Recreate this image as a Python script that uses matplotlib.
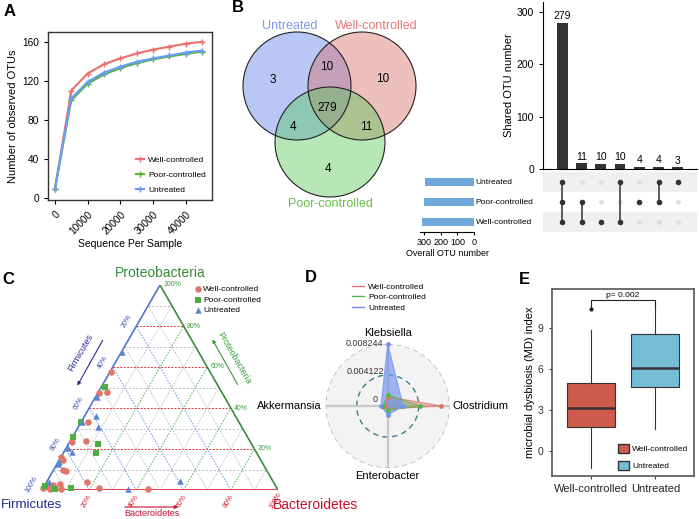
import numpy as np
import matplotlib
matplotlib.use("Agg")
import matplotlib.pyplot as plt
from matplotlib.patches import Circle, Patch
from matplotlib.lines import Line2D

plt.rcParams['font.family'] = ['Liberation Sans', 'DejaVu Sans']
plt.rcParams['axes.linewidth'] = 0.8

W, H = 699, 519
PT = 72 / 100  # pixel -> points

### --- A: rarefaction curves
seq_depth = [0, 5000, 10000, 15000, 20000, 25000, 30000, 35000, 40000, 45000]
otu_well = [9, 110, 127.5, 137, 143, 148, 152, 155, 158, 160]
otu_poor = [9, 100, 117, 126.5, 133, 138, 142, 145, 147.5, 150]
otu_untr = [9, 102, 119, 128.5, 134.5, 139.5, 143, 146, 149, 151]

### --- B: venn + upset
venn_regions = ['U', 'W', 'P', 'UW', 'UP', 'PW', 'UPW']
venn_counts = [3, 10, 4, 10, 4, 11, 279]
upset_counts = [279, 11, 10, 10, 4, 4, 3]
set_names = ['Untreated', 'Poor-controlled', 'Well-controlled']
upset_members = [[0, 1, 2], [1, 2], [2], [0, 2], [1], [0, 1], [0]]
set_sizes = [296, 298, 310]

### --- C: ternary (Proteobacteria, Bacteroidetes fractions; rest Firmicutes)
well_p = [0.577, 0.475, 0.48, 0.33, 0.236, 0.239, 0.163, 0.146, 0.098, 0.094,
          0.04, 0.008, 0.003, 0.008, 0.024, 0.003, 0.024, 0.028, 0.003]
well_b = [0.004, 0.005, 0.034, 0.031, 0.008, 0.067, 0.0, 0.017, 0.039, 0.053,
          0.169, 0.239, 0.449, 0.002, 0.008, 0.032, 0.036, 0.062, 0.078]
poor_p = [0.501, 0.333, 0.26, 0.223, 0.179, 0.005, 0.008, 0.02]
poor_b = [0.016, 0.0, 0.0, 0.125, 0.138, 0.053, 0.119, 0.003]
untr_p = [0.672, 0.455, 0.362, 0.309, 0.333, 0.206, 0.184, 0.135, 0.125, 0.04, 0.005, 0.044]
untr_b = [0.002, 0.004, 0.048, 0.084, 0.002, 0.008, 0.034, 0.006, 0.006, 0.011, 0.363, 0.563]
tern_ticks = [0.2, 0.4, 0.6, 0.8, 1.0]

### --- D: radar
radar_taxa = ['Klebsiella', 'Clostridium', 'Enterobacter', 'Akkermansia']
radar_well = [0.00123, 0.0071, 0.0004, 0.0004]
radar_poor = [0.00145, 0.00434, 0.0005, 0.0006]
radar_untr = [0.008244, 0.00206, 0.0012, 0.00088]
radar_levels = [0, 0.004122, 0.008244]

### --- E: MD index boxplot
md_groups = ['Well-controlled', 'Untreated']
md_q1 = [1.77, 4.68]
md_med = [3.11, 6.05]
md_q3 = [4.97, 8.52]
md_lo = [-1.21, 1.6]
md_hi = [8.81, 10.8]
md_fliers = [[10.34], []]

c_well, c_poor, c_untr = '#EB6F6C', '#55B23A', '#6A9CF8'

fig = plt.figure(figsize=(W / 100, H / 100), dpi=100)


def px_axes(l, t, r, b, **kw):
    return fig.add_axes([l / W, 1 - b / H, (r - l) / W, (b - t) / H], **kw)


# overlay in pixel coordinates (venn, arrows, letters)
ov = px_axes(0, 0, W, H)
ov.set_xlim(0, W)
ov.set_ylim(H, 0)
ov.axis('off')

for lab, x, y in [('A', 10, 11), ('B', 238, 8), ('C', 8, 279), ('D', 311, 278), ('E', 524, 280)]:
    ov.text(x, y, lab, fontsize=12, fontweight='bold', ha='center', va='center')

### A
ax = px_axes(48, 32, 212, 200)
for y, c, lab in [(otu_well, c_well, 'Well-controlled'),
                  (otu_poor, c_poor, 'Poor-controlled'),
                  (otu_untr, c_untr, 'Untreated')]:
    ax.plot(seq_depth, y, color=c, lw=1.5, marker='+', ms=4, mew=1, label=lab)
ax.set_xlim(-2100, 48000)
ax.set_ylim(-2, 170)
ax.set_xticks([0, 10000, 20000, 30000, 40000])
ax.set_yticks([0, 40, 80, 120, 160])
ax.tick_params(labelsize=7.3, length=3, width=0.8)
plt.setp(ax.get_xticklabels(), rotation=45, ha='right', rotation_mode='anchor')
ax.set_xlabel('Sequence Per Sample', fontsize=7.5, labelpad=2)
ax.set_ylabel('Number of observed OTUs', fontsize=8, labelpad=3)
for s in ax.spines.values():
    s.set_color('#333333')
    s.set_linewidth(1.0)
ax.legend(loc='lower right', frameon=False, fontsize=6, handlelength=1.0,
          labelspacing=0.9, handletextpad=0.5, borderaxespad=0.3)

### B venn
venn_circles = [((297, 86), 54, (0.35, 0.48, 0.93)),
                ((362, 86), 54, (0.84, 0.42, 0.38)),
                ((330, 142), 55, (0.33, 0.78, 0.33))]
for (cx, cy), r, col in venn_circles:
    ov.add_patch(Circle((cx, cy), r, facecolor=col + (0.42,), edgecolor='none'))
for (cx, cy), r, col in venn_circles:
    ov.add_patch(Circle((cx, cy), r, facecolor='none', edgecolor='#222222', lw=0.8))
venn_pos = {'U': (273, 80), 'W': (383, 79), 'P': (328, 169), 'UW': (327, 67),
            'UP': (293, 127), 'PW': (366, 127), 'UPW': (327, 108)}
for reg, n in zip(venn_regions, venn_counts):
    ov.text(*venn_pos[reg], str(n), ha='center', va='center', fontsize=8.5)
ov.text(290, 26, 'Untreated', color='#7C96F2', fontsize=9, ha='center', va='center')
ov.text(376, 26, 'Well-controlled', color='#E8776F', fontsize=9, ha='center', va='center')
ov.text(330, 204, 'Poor-controlled', color='#66C24A', fontsize=9, ha='center', va='center')

### B upset
ax_u = px_axes(543, 2, 697, 169)
xs = np.arange(len(upset_counts))
ax_u.bar(xs, upset_counts, width=0.57, color='#333333')
for x, v in zip(xs, upset_counts):
    ax_u.text(x, v + 3, str(v), ha='center', va='bottom', fontsize=7.5)
ax_u.set_xlim(-1.0, 7.0)
ax_u.set_ylim(0, 319)
ax_u.set_xticks([])
ax_u.set_yticks([0, 100, 200, 300])
ax_u.tick_params(labelsize=7.5, length=3)
ax_u.spines['top'].set_visible(False)
ax_u.spines['right'].set_visible(False)
ax_u.set_ylabel('Shared OTU number', fontsize=8, labelpad=2)

ax_m = px_axes(543, 172, 697, 232)
ax_m.set_xlim(-1.0, 7.0)
ax_m.set_ylim(2.5, -0.5)
ax_m.axis('off')
for i in range(len(set_names)):
    if i % 2 == 0:
        ax_m.axhspan(i - 0.5, i + 0.5, color='#F0F0F0', lw=0)
for j, mem in enumerate(upset_members):
    rows = np.arange(len(set_names))
    ax_m.scatter(np.full(len(rows), j), rows, s=6, color='#DDDDDD', zorder=2)
    ax_m.plot([j, j], [min(mem), max(mem)], color='#333333', lw=1.1, zorder=3)
    ax_m.scatter(np.full(len(mem), j), mem, s=9, color='#333333', zorder=4)

ax_s = px_axes(420, 172, 474, 232)
ax_s.barh(np.arange(len(set_sizes)), set_sizes, height=0.42, color='#6FA8DC')
ax_s.set_xlim(324, 0)
ax_s.set_ylim(2.5, -0.5)
ax_s.set_yticks([])
ax_s.set_xticks([300, 200, 100, 0])
ax_s.tick_params(labelsize=6.5, length=2.5, pad=1.5)
for k in ['top', 'left', 'right']:
    ax_s.spines[k].set_visible(False)
ax_s.set_xlabel('Overall OTU number', fontsize=6.5, labelpad=2)
for i, name in enumerate(set_names):
    ax_s.text(-10, i, name, ha='left', va='center', fontsize=6, clip_on=False)

### C ternary
h = np.sqrt(3) / 2
ax_t = px_axes(42, 285, 278, 490)
ax_t.set_xlim(0, 1)
ax_t.set_ylim(0, h)
ax_t.axis('off')


def tern(b, p):
    b = np.asarray(b, float)
    p = np.asarray(p, float)
    return b + p / 2, p * h


for k in range(1, 10):
    f = k / 10
    even = k % 2 == 0
    x, y = tern([0, 1 - f], [f, f])
    ax_t.plot(x, y, color='#E03030' if even else '#BBBBBB',
              ls=(0, (2, 1.5)) if even else (0, (2, 2)), lw=0.7)
    x, y = tern([f, f], [0, 1 - f])
    ax_t.plot(x, y, color='#4CAF50' if even else '#BBBBBB', ls=(0, (1.5, 1.5)), lw=0.7)
    x, y = tern([1 - f, 0], [0, 1 - f])
    ax_t.plot(x, y, color='#6B8FE0' if even else '#BBBBBB', ls=(0, (1.5, 1.5)), lw=0.7)

for (b0, p0, b1, p1), col in [((0, 0, 0, 1), '#4A78D0'), ((1, 0, 0, 1), '#3C8C3C'),
                              ((0, 0, 1, 0), '#E0202A')]:
    x, y = tern([b0, b1], [p0, p1])
    ax_t.plot(x, y, color=col, lw=1.2, solid_capstyle='butt')

for pp, bb, col, mk, lab in [(well_p, well_b, '#E0766A', 'o', 'Well-controlled'),
                            (poor_p, poor_b, '#4CB040', 's', 'Poor-controlled'),
                            (untr_p, untr_b, '#5B86D6', '^', 'Untreated')]:
    x, y = tern(bb, pp)
    ax_t.scatter(x, y, s=22, marker=mk, color=col, lw=0, zorder=5, clip_on=False, label=lab)
ax_t.legend(loc='upper left', bbox_to_anchor=(190 / W, 1 - 281 / H),
            bbox_transform=fig.transFigure, frameon=False, fontsize=6,
            handletextpad=0.1, labelspacing=0.35, borderpad=0, markerscale=1.0,
            handlelength=1.0)

for v in tern_ticks:
    s = f'{int(round(v * 100))}%'
    ax_t.annotate(s, tern(0, 1 - v), xytext=(-10 * PT, 5 * PT), textcoords='offset points',
                  rotation=60, color='#3A4DB0', fontsize=5, ha='center', va='center')
    ax_t.annotate(s, tern(1 - v, v), xytext=(3 * PT, 0), textcoords='offset points',
                  color='#3C9C3C', fontsize=5, ha='left', va='center')
    ax_t.annotate(s, tern(v, 0), xytext=(-2 * PT, -11 * PT), textcoords='offset points',
                  rotation=60, color='#D0202A', fontsize=5, ha='center', va='center')

ov.text(160, 273, 'Proteobacteria', color='#3A8A3A', fontsize=10, ha='center', va='center')
ov.text(1, 505, 'Firmicutes', color='#1F2A8F', fontsize=9.5, ha='left', va='center')
ov.text(315, 505, 'Bacteroidetes', color='#C8102E', fontsize=10, ha='center', va='center')
ov.annotate('', xy=(76, 388), xytext=(104, 338),
            arrowprops=dict(arrowstyle='-|>', color='#2A2A9A', lw=0.8, mutation_scale=5))
ov.text(81, 353, 'Firmicutes', rotation=60, color='#2A2A9A', fontsize=6.5, ha='center', va='center')
ov.annotate('', xy=(211, 337), xytext=(239, 387),
            arrowprops=dict(arrowstyle='-|>', color='#3C9C3C', lw=0.8, mutation_scale=5))
ov.text(234, 358, 'Proteobacteria', rotation=-60, color='#3C9C3C', fontsize=6.5, ha='center', va='center')
ov.annotate('', xy=(181, 507), xytext=(122, 507),
            arrowprops=dict(arrowstyle='-|>', color='#C8102E', lw=0.8, mutation_scale=5))
ov.text(152, 514, 'Bacteroidetes', color='#C8102E', fontsize=6.5, ha='center', va='center')

### D radar
rmax = radar_levels[-1]
ax_r = px_axes(325.7, 344, 449.7, 468, projection='polar')
ax_r.set_theta_zero_location('N')
ax_r.set_theta_direction(-1)
ax_r.set_ylim(0, rmax)
ax_r.axis('off')
th = np.linspace(0, 2 * np.pi, 200)
ax_r.fill(th, np.full_like(th, rmax), color='#F3F3F3', lw=0, zorder=0)
ax_r.plot(th, np.full_like(th, rmax), color='#AAAAAA', ls=(0, (4, 3)), lw=0.9, zorder=1)
ax_r.plot(th, np.full_like(th, radar_levels[1]), color='#3C7F8C', ls=(0, (4, 3)), lw=1.0, zorder=1)
ang = np.arange(len(radar_taxa)) * np.pi / 2
for a in ang:
    ax_r.plot([a, a], [0, rmax], color='#C8C8C8', lw=1.6, zorder=1)
angc = np.append(ang, ang[0])
for vals, col, al in [(radar_well, '#E8736E', 0.45), (radar_poor, '#4DB84D', 0.35),
                      (radar_untr, '#7090F0', 0.65)]:
    v = np.append(vals, vals[0])
    ax_r.fill(angc, v, color=col, alpha=al, lw=0, zorder=2)
    ax_r.plot(angc, v, color=col, lw=0.8, alpha=0.8, zorder=3, label=None)
    ax_r.scatter(ang, vals, s=6, color=col, zorder=4, clip_on=False)
for lev, dx, dy in [(radar_levels[0], -10, 6), (radar_levels[1], -4, 4), (radar_levels[2], -5, 1)]:
    lab = '0' if lev == 0 else f'{lev:.6f}'
    ax_r.annotate(lab, (0, lev), xytext=(dx * PT, dy * PT), textcoords='offset points',
                  ha='right', va='center', fontsize=6.5, color='#333333')
for a, name, ha, va, off in [(ang[0], radar_taxa[0], 'center', 'bottom', (0, 6)),
                             (ang[1], radar_taxa[1], 'left', 'center', (3, 0)),
                             (ang[2], radar_taxa[2], 'center', 'top', (0, -3)),
                             (ang[3], radar_taxa[3], 'right', 'center', (-4, 0))]:
    ax_r.annotate(name, (a, rmax), xytext=(off[0] * PT, off[1] * PT), textcoords='offset points',
                  ha=ha, va=va, fontsize=8)
ax_r.legend([Line2D([], [], color='#E8736E', lw=1), Line2D([], [], color='#4DB84D', lw=1),
             Line2D([], [], color='#7090F0', lw=1)],
            ['Well-controlled', 'Poor-controlled', 'Untreated'],
            loc='upper left', bbox_to_anchor=(348 / W, 1 - 279 / H), bbox_transform=fig.transFigure,
            frameon=False, fontsize=6, handlelength=1.4, handletextpad=0.5,
            labelspacing=0.3, borderpad=0)

### E boxplot
ax_e = px_axes(552, 289, 694, 476)
stats = []
for g, q1, md, q3, lo, hi, fl in zip(md_groups, md_q1, md_med, md_q3, md_lo, md_hi, md_fliers):
    stats.append(dict(label=g, q1=q1, med=md, q3=q3, whislo=lo, whishi=hi, fliers=fl))
bp = ax_e.bxp(stats, positions=[1, 2], widths=0.75, patch_artist=True, showcaps=False,
              boxprops=dict(edgecolor='#333333', lw=0.8),
              medianprops=dict(color='#333333', lw=1.8),
              whiskerprops=dict(color='#333333', lw=0.8),
              flierprops=dict(marker='o', markersize=2, markerfacecolor='#222222',
                              markeredgecolor='#222222'))
box_cols = ['#CF5B4D', '#74BDD5']
for patch, c in zip(bp['boxes'], box_cols):
    patch.set_facecolor(c)
ax_e.plot([1, 1, 2, 2], [10.5, 11.0, 11.0, 10.5], color='#222222', lw=0.8)
ax_e.text(1.5, 11.05, 'p= 0.002', ha='center', va='bottom', fontsize=6)
ax_e.set_xlim(0.4, 2.6)
ax_e.set_ylim(-1.8, 11.8)
ax_e.set_yticks([0, 3, 6, 9])
ax_e.tick_params(labelsize=7.5, length=2.5, colors='#333333')
ax_e.tick_params(axis='x', labelsize=8, labelcolor='#222222')
for s in ax_e.spines.values():
    s.set_color('#555555')
    s.set_linewidth(1.2)
ax_e.set_ylabel('microbial dysbiosis (MD) index', fontsize=8, labelpad=2)
ax_e.legend([Patch(facecolor=c, edgecolor='#333333') for c in box_cols], md_groups,
            loc='lower right', frameon=False, fontsize=6, handlelength=1.4, handleheight=1.3,
            labelspacing=0.9, handletextpad=0.3, borderaxespad=0.3)

fig.savefig('out.png', dpi=100)
